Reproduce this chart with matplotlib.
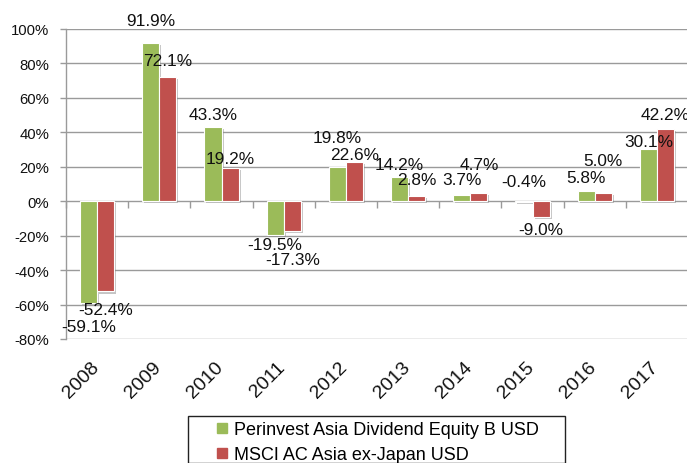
import matplotlib
matplotlib.use("Agg")
import matplotlib.pyplot as plt
import matplotlib.patheffects as pe
from matplotlib.patches import Rectangle
from matplotlib.lines import Line2D
from matplotlib.transforms import ScaledTranslation
import numpy as np

# --- Data ---
years = ["2008", "2009", "2010", "2011", "2012", "2013", "2014", "2015", "2016", "2017"]
fund_returns = [-59.1, 91.9, 43.3, -19.5, 19.8, 14.2, 3.7, -0.4, 5.8, 30.1]
index_returns = [-52.4, 72.1, 19.2, -17.3, 22.6, 2.8, 4.7, -9.0, 5.0, 42.2]
series_names = ["Perinvest Asia Dividend Equity B USD", "MSCI AC Asia ex-Japan USD"]

# label offsets (pixels, + = up) as placed in the original chart
fund_label_px = [-23, 22, 12.5, -9.5, 30, 12.6, 15.6, 20.7, 14, 8]
index_label_px = [-18, 17, 10, -28, 8, 17, 29, -12.5, 32, 14]

GREEN = "#9BBB59"
RED = "#C0504D"
GRID = "#9A9A9A"

plt.rcParams["font.family"] = ["Liberation Sans", "DejaVu Sans"]

W, H = 687, 464
fig = plt.figure(figsize=(W / 100, H / 100), dpi=100)
ax = fig.add_axes([66 / W, (H - 340) / H, (688 - 66) / W, 310 / H])

x = np.arange(len(years))
bw = 0.275
shadow = [pe.SimplePatchShadow(offset=(1.5, -1.5), shadow_rgbFace="#808080", alpha=0.45), pe.Normal()]

bars_f = ax.bar(x - bw / 2, fund_returns, bw, color=GREEN, edgecolor="white", linewidth=0.8, zorder=3)
bars_i = ax.bar(x + bw / 2, index_returns, bw, color=RED, edgecolor="white", linewidth=0.8, zorder=3)
for b in list(bars_f) + list(bars_i):
    b.set_path_effects(shadow)

# data labels
for xs, vals, offs in [(x - bw / 2, fund_returns, fund_label_px),
                       (x + bw / 2, index_returns, index_label_px)]:
    for xi, v, o in zip(xs, vals, offs):
        ax.annotate(f"{v:.1f}%", (xi, v), xytext=(0, o * 0.72), textcoords="offset points",
                    ha="center", va="center", fontsize=12.4, color="#111111", zorder=5)

ax.set_xlim(-0.5, len(years) - 0.5)
ax.set_ylim(-80, 100)
ax.set_yticks(np.arange(-80, 101, 20))
ax.set_yticklabels([f"{t}%" for t in range(-80, 101, 20)])
ax.yaxis.grid(True, color=GRID, linewidth=1.0, zorder=0)
ax.set_axisbelow(True)

for s in ["top", "right", "bottom"]:
    ax.spines[s].set_visible(False)
ax.spines["left"].set_color(GRID)
ax.spines["left"].set_linewidth(1.0)
ax.tick_params(axis="y", length=4, color=GRID, width=1.0, pad=8, labelsize=10.7, labelcolor="#111111")

ax.set_xticks(x)
ax.set_xticklabels(years, rotation=45, ha="right", fontsize=14, color="#111111")
ax.tick_params(axis="x", length=0, pad=14)
offset = ScaledTranslation(5 / 100, 0, fig.dpi_scale_trans)
for lbl in ax.get_xticklabels():
    lbl.set_transform(lbl.get_transform() + offset)

# category tick marks on the zero line
sec = ax.secondary_xaxis(80 / 180)
sec.set_xticks(np.arange(-0.5, len(years) + 0.5, 1.0))
sec.set_xticklabels([])
sec.spines["bottom"].set_visible(False)
sec.tick_params(axis="x", length=5, color=GRID, width=1.0, direction="out")

# legend
handles = [Line2D([], [], marker="s", linestyle="none", markersize=7, markerfacecolor=GREEN, markeredgecolor=GREEN),
           Line2D([], [], marker="s", linestyle="none", markersize=7, markerfacecolor=RED, markeredgecolor=RED)]
fig.legend(handles, series_names, loc="upper left", bbox_to_anchor=(217 / W, 1 - 422 / H),
           frameon=False, fontsize=13, handlelength=0.6, handletextpad=0.35, labelspacing=0.45,
           borderpad=0, borderaxespad=0)
fig.patches.append(Rectangle((188 / W, 0), (565 - 188) / W, (H - 417) / H + 0.001, transform=fig.transFigure,
                             fill=False, edgecolor="#222222", linewidth=1.0))

fig.savefig("out.png", dpi=100)
